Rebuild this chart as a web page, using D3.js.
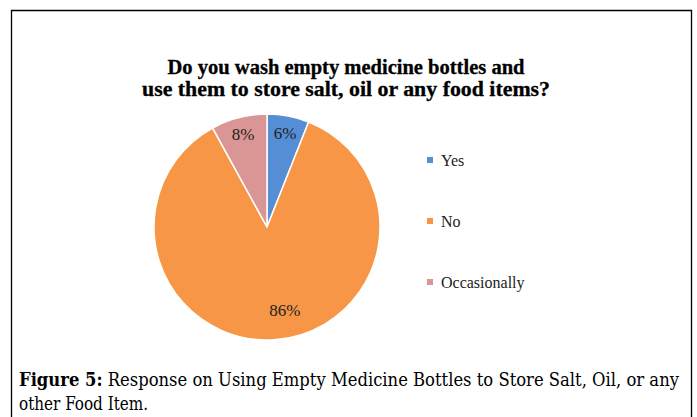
<!DOCTYPE html>
<html>
<head>
<meta charset="utf-8">
<script src="https://cdn.jsdelivr.net/npm/d3@7"></script>
<style>
  html, body { margin: 0; padding: 0; background: #fff; }
  svg { display: block; }
</style>
</head>
<body>
<svg id="chart" width="697" height="417"></svg>
<script>
// Survey answers and their shares (percent)
const categories = ["Yes", "No", "Occasionally"];
const values = [6, 86, 8];
const colors = ["#558ED5", "#F79646", "#D99694"];
const titleLines = [
  "Do you wash empty medicine bottles and",
  "use them to store salt, oil or any food items?"
];
const captionLabel = "Figure 5:";
const captionLines = [
  " Response on Using Empty Medicine Bottles to Store Salt, Oil, or any",
  "other Food Item."
];

const SERIF = '"Liberation Serif", "Times New Roman", serif';
const CAPTION = '"DejaVu Serif Condensed", "Liberation Serif", serif';

const svg = d3.select("#chart");

// Frame around the chart (open at the bottom)
svg.append("path")
  .attr("d", "M11.5,417 V10.5 H691.5 V417")
  .attr("fill", "none")
  .attr("stroke", "#000")
  .attr("stroke-width", 1.3);

// Title
svg.append("g").selectAll("text")
  .data(titleLines)
  .join("text")
  .style("font-family", SERIF)
  .style("font-weight", "bold")
  .style("font-size", "20px")
  .attr("x", 346)
  .attr("y", (d, i) => 74 + i * 22)
  .attr("text-anchor", "middle")
  .attr("fill", "#000")
  .attr("stroke", "#000")
  .attr("stroke-width", 0.3)
  .attr("textLength", (d, i) => i === 0 ? 357 : 408)
  .attr("lengthAdjust", "spacingAndGlyphs")
  .text(d => d);

// Pie
const cx = 267, cy = 227, r = 113;
const pie = d3.pie().sort(null).value(d => d.value);
const arcs = pie(categories.map((c, i) => ({ cat: c, value: values[i], color: colors[i] })));
const arc = d3.arc().innerRadius(0).outerRadius(r);

const g = svg.append("g").attr("transform", `translate(${cx},${cy})`);
g.selectAll("path")
  .data(arcs)
  .join("path")
  .attr("d", arc)
  .attr("fill", d => d.data.color)
  .attr("stroke", "#fff")
  .attr("stroke-width", 1.5);

// Value labels: small slices near the rim, the large slice a bit
// off its mid-angle toward the lower right
const labelPos = d => {
  const big = d.data.value > 50;
  const rr = big ? r * 0.75 : r * 0.85;
  const mid = (d.startAngle + d.endAngle) / 2 - (big ? 0.15 : 0);
  return [rr * Math.sin(mid), -rr * Math.cos(mid)];
};
g.selectAll("text")
  .data(arcs)
  .join("text")
  .style("font-family", SERIF)
  .style("font-size", "17px")
  .attr("x", d => labelPos(d)[0])
  .attr("y", d => labelPos(d)[1])
  .attr("dy", "0.35em")
  .attr("text-anchor", "middle")
  .attr("fill", "#222")
  .text(d => d.data.value + "%");

// Legend
const legend = svg.append("g").attr("transform", "translate(430,160)");
const items = legend.selectAll("g")
  .data(categories)
  .join("g")
  .attr("transform", (d, i) => `translate(0,${i * 61})`);
items.append("rect")
  .attr("x", -3).attr("y", -3)
  .attr("width", 6).attr("height", 6)
  .attr("fill", (d, i) => colors[i]);
items.append("text")
  .style("font-family", SERIF)
  .style("font-size", "16px")
  .attr("x", 11)
  .attr("y", 0)
  .attr("dy", "0.35em")
  .attr("fill", "#222")
  .text(d => d);

// Caption below the chart
const cap1 = svg.append("text")
  .style("font-family", CAPTION)
  .style("font-size", "18px")
  .attr("x", 19)
  .attr("y", 386)
  .attr("fill", "#000")
  .attr("textLength", 660)
  .attr("lengthAdjust", "spacingAndGlyphs");
cap1.append("tspan").style("font-weight", "bold").text(captionLabel);
cap1.append("tspan").text(captionLines[0]);

svg.append("text")
  .style("font-family", CAPTION)
  .style("font-size", "18px")
  .attr("x", 19)
  .attr("y", 410)
  .attr("fill", "#000")
  .attr("textLength", 129)
  .attr("lengthAdjust", "spacingAndGlyphs")
  .text(captionLines[1]);
</script>
</body>
</html>
